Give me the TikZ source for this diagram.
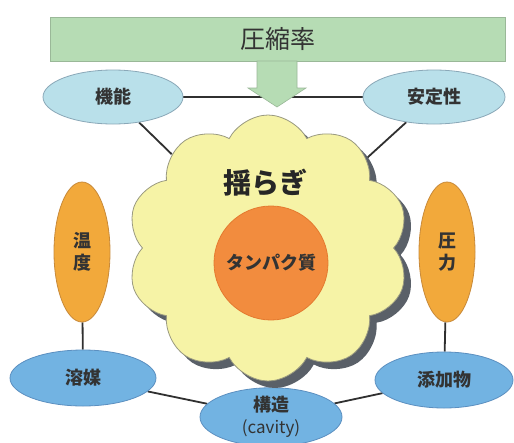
\documentclass[tikz,border=0pt]{standalone}
\usepackage{fontspec}
\setmainfont{Noto Sans CJK JP}
\usetikzlibrary{shapes.symbols,shapes.geometric,shadows,backgrounds}
\definecolor{rectgreen}{HTML}{B6DCB4}
\definecolor{rectedge}{HTML}{9AB898}
\definecolor{lblue}{HTML}{B9E0EA}
\definecolor{lbedge}{HTML}{8AA8B8}
\definecolor{mblue}{HTML}{72B3E2}
\definecolor{mbedge}{HTML}{5B8FC0}
\definecolor{orfill}{HTML}{F2A93B}
\definecolor{oredge}{HTML}{C88A3A}
\definecolor{protfill}{HTML}{F28C3E}
\definecolor{protedge}{HTML}{E47A30}
\definecolor{cloudfill}{HTML}{F6F3A6}
\definecolor{cloudedge}{HTML}{9A9A80}
\definecolor{shadowgray}{HTML}{5A6068}
\definecolor{txt}{HTML}{333333}
\definecolor{linec}{HTML}{303030}
\begin{document}
\begin{tikzpicture}[x=1pt,y=-1pt,
  lbell/.style={ellipse,fill=lblue,draw=lbedge,line width=0.8pt,inner sep=0pt,text=txt,font=\fontsize{18}{22}\selectfont\bfseries},
  mbell/.style={ellipse,fill=mblue,draw=mbedge,line width=0.8pt,inner sep=0pt,text=txt,font=\fontsize{18}{22}\selectfont\bfseries},
  orell/.style={ellipse,fill=orfill,draw=oredge,line width=0.8pt,inner sep=0pt,text=txt,align=center,font=\fontsize{18}{22}\selectfont\bfseries},
  conn/.style={draw=linec,line width=1.8pt}]
\useasboundingbox (0,0) rectangle (514,442);
% top bar
\node[rectangle,fill=rectgreen,draw=rectedge,line width=0.8pt,minimum width=455pt,minimum height=44pt,inner sep=0pt,text=txt,font=\fontsize{25}{28}\selectfont] (comp) at (277.5,39) {\raisebox{-2pt}{圧縮率}};
% ellipses
\node[lbell,minimum width=140pt,minimum height=54pt] (kino) at (113,97) {機能};
\node[lbell,minimum width=142pt,minimum height=54pt] (antei) at (434,97) {安定性};
\node[orell,minimum width=56pt,minimum height=140pt] (ondo) at (82,252) {温\\度};
\node[orell,minimum width=56pt,minimum height=140pt] (atsu) at (447,252) {圧\\力};
\node[mbell,minimum width=146pt,minimum height=56pt] (yobai) at (83,378) {溶媒};
\node[mbell,minimum width=138pt,minimum height=56pt] (tenka) at (444,380) {添加物};
\node[mbell,minimum width=142pt,minimum height=58pt,align=center] (kozo) at (271,417) {構造\\{\fontsize{17}{22}\selectfont\mdseries (cavity)}};
% cloud
\node[cloud,cloud puffs=10,cloud puff arc=125,aspect=1.06,minimum width=282pt,minimum height=266pt,inner sep=0pt,fill=cloudfill,draw=cloudedge,line width=0.8pt,
  drop shadow={shadow xshift=7pt,shadow yshift=-7pt,fill=shadowgray,opacity=1}] (cloud) at (268,248) {};
\node[text=black!85,font=\fontsize{28}{32}\selectfont\bfseries] (yur) at (265,183) {揺らぎ};
\node[circle,fill=protfill,draw=protedge,line width=0.8pt,minimum size=114pt,inner sep=0pt,text=txt,font=\fontsize{18}{22}\selectfont\bfseries] (prot) at (271,263) {タンパク質};
% down arrow
\draw[fill=rectgreen,draw=rectedge,line width=0.6pt,line join=miter]
  (257,61) -- (257,88) -- (248,88) -- (277,107) -- (306,88) -- (297,88) -- (297,61) -- cycle;
% connectors behind shapes
\begin{pgfonlayer}{background}
\fill[white] (0,0) rectangle (514,442);
\draw[conn] (kino) -- (antei);
\draw[conn] (kino) -- (cloud);
\draw[conn] (antei) -- (cloud);
\draw[conn] (ondo) -- (yobai);
\draw[conn] (atsu) -- (tenka);
\draw[conn] (yobai) -- (kozo);
\draw[conn] (kozo) -- (tenka);
\end{pgfonlayer}
\end{tikzpicture}
\end{document}
